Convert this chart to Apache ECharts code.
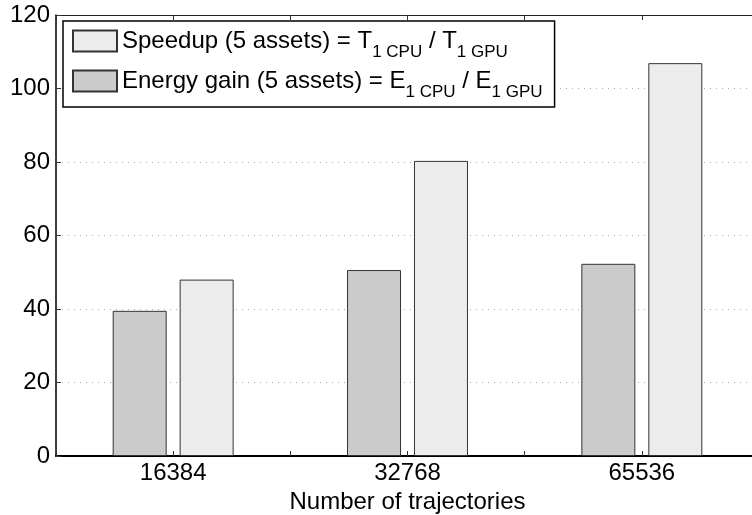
<!DOCTYPE html>
<html>
<head>
<meta charset="utf-8">
<script src="https://cdn.jsdelivr.net/npm/echarts@6/dist/echarts.min.js"></script>
<style>html,body{margin:0;padding:0;background:#fff}#c{width:752px;height:515px}</style>
</head>
<body>
<div id="c"></div>
<script>
var categories = ['16384', '32768', '65536'];
var energyGain = [39.5, 50.6, 52.3];
var speedup = [48.0, 80.3, 106.9];
var yTicks = [0, 20, 40, 60, 80, 100, 120];
var xTitle = 'Number of trajectories';
var nameSpeedup = 'Speedup';
var nameEnergy = 'Energy gain';

var FONT = 'Liberation Sans, Arial, Helvetica, sans-serif';
var chart = echarts.init(document.getElementById('c'), null, {renderer: 'canvas'});

function overlayAxis(pos, align) {
  return {
    type: 'category', data: categories, position: pos, gridIndex: 0,
    axisLine: {show: false}, axisLabel: {show: false},
    axisTick: {show: true, inside: true, length: 5, alignWithLabel: align, lineStyle: {color: '#333', width: 1}},
    splitLine: {show: false}
  };
}

var option = {
  backgroundColor: '#fff',
  animation: false,
  textStyle: {fontFamily: FONT},
  grid: {left: 56, top: 15, width: 703, bottom: 59, containLabel: false, outerBoundsMode: 'none'},
  legend: {
    orient: 'vertical', left: 63, top: 21,
    data: [nameSpeedup, nameEnergy],
    itemWidth: 44, itemHeight: 21, itemGap: 0,
    padding: [0, 12, 6, 9],
    borderColor: '#000', borderWidth: 1.5, backgroundColor: '#fff',
    icon: 'rect',
    formatter: function (n) {
      if (n === nameSpeedup) return 'Speedup (5 assets) = T{s|1 CPU} / T{s|1 GPU}';
      return 'Energy gain (5 assets) = E{s|1 CPU} / E{s|1 GPU}';
    },
    textStyle: {
      fontFamily: FONT, fontSize: 24, lineHeight: 24, color: '#000',
      rich: {s: {fontFamily: FONT, fontSize: 17, lineHeight: 16, color: '#000', padding: [23, 0, 0, 0]}}
    }
  },
  xAxis: [
    {
      type: 'category', data: categories, position: 'bottom',
      name: xTitle, nameLocation: 'middle', nameGap: 29,
      nameTextStyle: {fontFamily: FONT, fontSize: 24, color: '#000', align: 'center'},
      axisLine: {show: true, lineStyle: {color: '#000', width: 2}},
      axisTick: {show: true, inside: true, length: 5, alignWithLabel: false, lineStyle: {color: '#333', width: 1}},
      axisLabel: {fontFamily: FONT, fontSize: 24, color: '#000', margin: 5},
      splitLine: {show: false}
    },
    overlayAxis('bottom', true),
    {
      type: 'category', data: categories, position: 'top',
      axisLine: {show: true, lineStyle: {color: '#222', width: 1}},
      axisLabel: {show: false},
      axisTick: {show: true, inside: true, length: 5, alignWithLabel: false, lineStyle: {color: '#333', width: 1}},
      splitLine: {show: false}
    },
    overlayAxis('top', true)
  ],
  yAxis: {
    type: 'value', min: yTicks[0], max: yTicks[yTicks.length - 1], interval: 20,
    axisLine: {show: true, lineStyle: {color: '#000', width: 1.5}},
    axisTick: {show: true, inside: true, length: 5, lineStyle: {color: '#333'}},
    axisLabel: {fontFamily: FONT, fontSize: 24, color: '#000', margin: 6},
    splitLine: {show: true, lineStyle: {color: '#aaa', type: [1, 5], width: 1}}
  },
  series: [
    {
      name: nameEnergy, type: 'bar', data: energyGain, xAxisIndex: 0,
      barWidth: 54, barGap: '24%',
      itemStyle: {color: '#cbcbcb', borderColor: '#333', borderWidth: 1}
    },
    {
      name: nameSpeedup, type: 'bar', data: speedup, xAxisIndex: 0,
      barWidth: 54, barGap: '24%',
      itemStyle: {color: '#ececec', borderColor: '#333', borderWidth: 1}
    }
  ]
};
chart.setOption(option);
</script>
</body>
</html>
